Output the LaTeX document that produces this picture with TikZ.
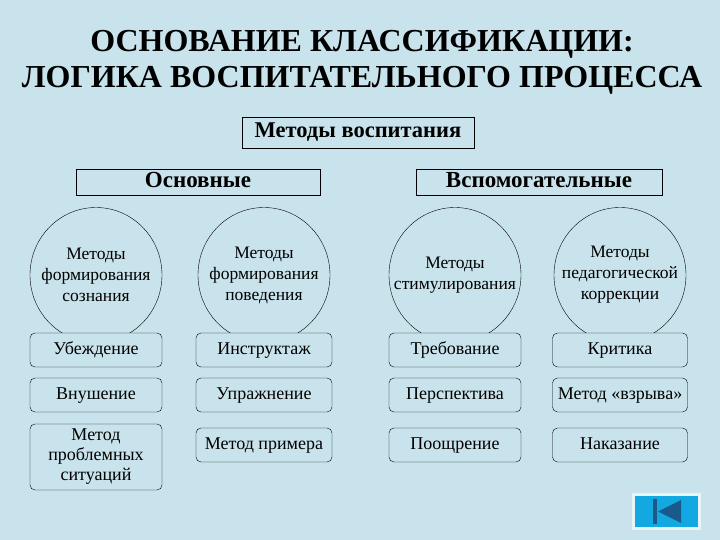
\documentclass[tikz,border=0pt]{standalone}
\usepackage{fontspec}
\setmainfont{Liberation Serif}
\usetikzlibrary{shapes.geometric}
\definecolor{bg}{HTML}{C8E3EB}
\definecolor{btn}{HTML}{12A9E2}
\definecolor{btnd}{HTML}{1A5A8A}
\begin{document}
\begin{tikzpicture}[x=1pt,y=-1pt,
  hdr/.style={draw,fill=bg,minimum height=26pt,inner sep=0pt,text height=16pt,text depth=5pt,font=\fontsize{23}{26}\selectfont\bfseries},
  oval/.style={draw,ellipse,minimum width=132pt,minimum height=135pt,inner sep=0pt},
  ovtxt/.style={font=\fontsize{17.5}{21}\selectfont,align=center,inner sep=0pt},
  itm/.style={draw,fill=bg,rounded corners=5pt,minimum width=132pt,minimum height=34pt,font=\fontsize{18}{20}\selectfont,align=center,inner sep=1pt},
  one/.style={itm,text height=12pt,text depth=4pt}]
\fill[bg] (0,0) rectangle (720,540);
\node[font=\fontsize{32}{36}\selectfont\bfseries,align=center] (title) at (362,62) {ОСНОВАНИЕ КЛАССИФИКАЦИИ:\\ЛОГИКА ВОСПИТАТЕЛЬНОГО ПРОЦЕССА};
\node[hdr,minimum width=232pt,minimum height=31pt,font=\fontsize{22.5}{26}\selectfont\bfseries] (top) at (358,132.5) {Методы воспитания};
\node[hdr,minimum width=244pt] (osn) at (198,182) {Основные};
\node[hdr,minimum width=246pt] (vsp) at (539,182) {Вспомогательные};
\node[oval] (e1) at (96,275) {};
\node[oval] (e2) at (264,275) {};
\node[oval] (e3) at (455,275) {};
\node[oval] (e4) at (620,275) {};
\node[ovtxt] (t1) at (e1) {Методы\\формирования\\сознания};
\node[ovtxt] (t2) at (e2) {Методы\\формирования\\поведения};
\node[ovtxt] (t3) at (e3) {Методы\\стимулирования};
\node[ovtxt] (t4) at (e4) {Методы\\педагогической\\коррекции};
\node[one] (a1) at (96,350) {Убеждение};
\node[one,minimum width=136pt] (a2) at (264,350) {Инструктаж};
\node[one] (a3) at (455,350) {Требование};
\node[one,minimum width=135pt] (a4) at (620,350) {Критика};
\node[one] (b1) at (96,395) {Внушение};
\node[one,minimum width=136pt] (b2) at (264,395) {Упражнение};
\node[one] (b3) at (455,395) {Перспектива};
\node[one,minimum width=135pt] (b4) at (620,395) {Метод «взрыва»};
\node[itm,minimum height=66pt] (c1) at (96,457) {Метод\\проблемных\\ситуаций};
\node[one,minimum width=136pt] (c2) at (264,445) {Метод примера};
\node[one] (c3) at (455,445) {Поощрение};
\node[one,minimum width=135pt] (c4) at (620,445) {Наказание};
\fill[white!60!bg] (632,493) rectangle (701,530);
\fill[btn] (635,496) rectangle (698,527);
\fill[btnd] (653,499) rectangle (657,524);
\fill[btnd] (658,511.5) -- (681,500) -- (681,523) -- cycle;
\end{tikzpicture}
\end{document}
